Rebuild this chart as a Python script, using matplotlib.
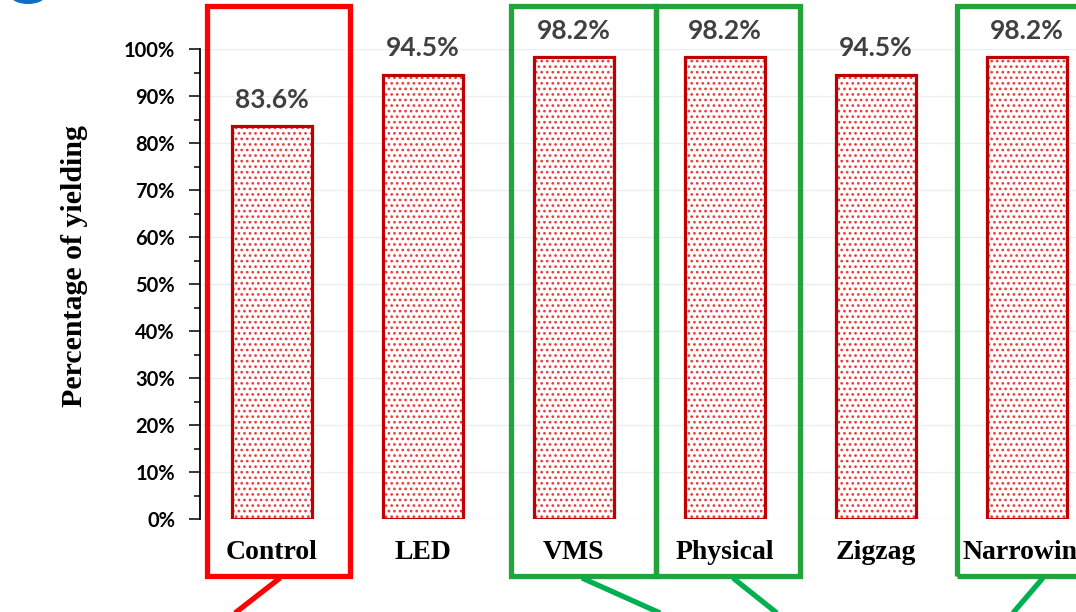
import matplotlib
matplotlib.use("Agg")
import matplotlib.pyplot as plt
from matplotlib.patches import Rectangle, Ellipse
from matplotlib.ticker import MultipleLocator, PercentFormatter

# Yielding rate per treatment
categories = ["Control", "LED", "VMS", "Physical", "Zigzag", "Narrowing"]
yield_pct = [83.6, 94.5, 98.2, 98.2, 94.5, 98.2]

# Highlight frames: (category, left offset, right offset, colour, callout end offset)
highlights = [
    ("Control", -0.43, 0.515, "#FF0000", -0.245),
    ("VMS", -0.415, 0.545, "#23A33B", 0.57),
    ("Physical", -0.455, 0.50, "#23A33B", 0.344),
    ("Narrowing", -0.465, 0.70, "#23A33B", -0.093),
]
callout_colour = {"#FF0000": "#FF0000", "#23A33B": "#00B050"}

plt.rcParams["hatch.linewidth"] = 1.15

W, H = 1076, 612
fig = plt.figure(figsize=(W / 100, H / 100), dpi=100)
fig.patch.set_facecolor("white")
ax = fig.add_axes([200 / W, (H - 519) / H, 1 - 200 / W, 470 / H])

x = list(range(len(categories)))
vals = [v / 100 for v in yield_pct]

# dotted fill, then the outline on top
ax.bar(x, vals, width=0.53, color="white", edgecolor="#EC3A3A", hatch="...",
       linewidth=0, zorder=3)
ax.bar(x, vals, width=0.53, fill=False, edgecolor="#C00000", linewidth=2.3,
       zorder=4)

for xi, v, p in zip(x, vals, yield_pct):
    ax.annotate(f"{p:.1f}%", (xi, v), xytext=(0, 19), textcoords="offset points",
                ha="center", va="center", fontsize=19, fontweight="bold",
                family="Lato", color="#404040", annotation_clip=False)

ax.set_xlim(-0.477, 5.325)
ax.set_ylim(0, 1.0)
ax.yaxis.set_major_locator(MultipleLocator(0.1))
ax.yaxis.set_minor_locator(MultipleLocator(0.05))
ax.yaxis.set_major_formatter(PercentFormatter(1.0, decimals=0))
ax.tick_params(axis="y", which="major", length=8, width=1.1, pad=10,
               labelsize=14.5, direction="out")
ax.tick_params(axis="y", which="minor", length=4, width=1.1, direction="out")
for lab in ax.get_yticklabels():
    lab.set_fontweight("bold")
    lab.set_family("Lato")
ax.set_xticks([])
ax.grid(axis="y", color="#E9EDF5", linewidth=1.0, zorder=0)
ax.set_axisbelow(True)
for s in ("top", "right", "bottom"):
    ax.spines[s].set_visible(False)
ax.spines["left"].set_linewidth(1.3)

ax.set_ylabel("Percentage of yielding", fontsize=21.5, fontweight="bold",
              family="Liberation Serif")
ax.yaxis.set_label_coords(-0.128, 0.538)

# category names below the bars
for xi, c in zip(x, categories):
    ax.text(xi, -0.072, c, ha="center", va="center", fontsize=20,
            fontweight="bold", family="Liberation Serif", clip_on=False)

# highlight frames and callout strokes
for name, lo, hi, col, end in highlights:
    i = categories.index(name)
    ax.add_patch(Rectangle((i + lo, -0.121), hi - lo, 1.0915 + 0.121,
                           fill=False, edgecolor=col, linewidth=3.8,
                           clip_on=False, zorder=6))
    start = 0.106 if name == "Narrowing" else 0.053
    ax.plot([i + start, i + end], [-0.1255, -0.2], color=callout_colour[col],
            linewidth=3.8, clip_on=False, zorder=6, solid_capstyle="butt")

# corner decoration
fig.add_artist(Ellipse((28, H + 4), 34, 16, transform=None, facecolor="#0B6FC4",
                       edgecolor="none"))

fig.savefig("out.png", dpi=100)
